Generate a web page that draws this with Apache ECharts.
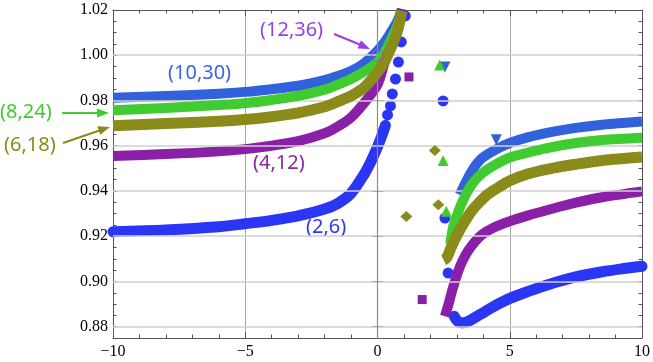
<!DOCTYPE html>
<html>
<head>
<meta charset="utf-8">
<script src="https://cdn.jsdelivr.net/npm/echarts@6/dist/echarts.min.js"></script>
<style>
  html, body { margin: 0; padding: 0; background: #fff; }
  #chart { width: 653px; height: 362px; }
</style>
</head>
<body>
<div id="chart"></div>
<script>
// axis ticks
const tickX = [-10, -5, 0, 5, 10];
const tickY = [0.88, 0.90, 0.92, 0.94, 0.96, 0.98, 1.00, 1.02];

// (2,6) blue circles
const c26LeftX = [-10, -8, -6, -5, -4, -3, -2, -1.5, -1, -0.5, -0.25, 0, 0.15, 0.3];
const c26LeftY = [0.922, 0.9228, 0.9242, 0.9255, 0.927, 0.929, 0.932, 0.9345, 0.939, 0.9475, 0.953, 0.9595, 0.964, 0.969];
const c26RightX = [2.9, 3.0, 3.15, 3.3, 3.5, 3.75, 4, 4.4, 5, 5.7, 6.5, 7.5, 8.5, 9.25, 10];
const c26RightY = [0.8846, 0.8828, 0.8817, 0.8818, 0.8828, 0.8845, 0.8862, 0.889, 0.8925, 0.8956, 0.8988, 0.902, 0.9043, 0.9056, 0.9067];
const c26DotX = [0.38, 0.49, 0.56, 0.68, 0.79, 0.9, 1.05, 2.48, 2.55, 2.67];
const c26DotY = [0.9736, 0.9776, 0.9829, 0.9895, 0.997, 1.0059, 1.0174, 0.9798, 0.928, 0.9037];

// (4,12) purple squares
const c412LeftX = [-10, -8, -6, -5, -4, -3, -2, -1.5, -1, -0.5, 0, 0.25, 0.5, 0.75, 0.92];
const c412LeftY = [0.9555, 0.9563, 0.9575, 0.9585, 0.96, 0.962, 0.9655, 0.9685, 0.9725, 0.979, 0.987, 0.996, 1.0045, 1.0125, 1.0205];
const c412RightX = [2.55, 2.7, 2.8, 2.9, 3.05, 3.2, 3.42, 3.7, 3.95, 4.4, 5, 5.7, 6.5, 7.5, 8.5, 10];
const c412RightY = [0.8846, 0.8905, 0.895, 0.899, 0.9045, 0.9088, 0.9135, 0.9178, 0.9207, 0.9238, 0.9266, 0.9292, 0.9318, 0.9348, 0.9372, 0.9398];
const c412DotX = [1.19, 1.69];
const c412DotY = [0.9904, 0.892];

// (6,18) olive diamonds
const c618LeftX = [-10, -8, -6, -5, -4, -3, -2, -1.5, -1, -0.5, 0, 0.25, 0.5, 0.75, 0.92];
const c618LeftY = [0.9688, 0.9698, 0.9708, 0.9716, 0.9728, 0.9745, 0.9772, 0.9795, 0.982, 0.9858, 0.9925, 0.997, 1.003, 1.0105, 1.0195];
const c618RightX = [2.5, 2.62, 2.8, 3.05, 3.3, 3.55, 3.85, 4.17, 4.6, 5, 5.7, 6.5, 7.5, 8.5, 10];
const c618RightY = [0.9095, 0.9105, 0.9155, 0.9214, 0.9265, 0.931, 0.935, 0.9385, 0.9418, 0.9445, 0.9476, 0.9498, 0.9518, 0.9535, 0.955];
const c618DotX = [1.09, 2.17, 2.3];
const c618DotY = [0.9287, 0.9579, 0.9339];

// (8,24) green triangles
const c824LeftX = [-10, -8, -6, -5, -4, -3, -2, -1.5, -1, -0.5, 0, 0.25, 0.5, 0.75, 0.92];
const c824LeftY = [0.9757, 0.9767, 0.978, 0.9788, 0.9802, 0.982, 0.9848, 0.987, 0.9895, 0.9928, 0.997, 1.001, 1.0065, 1.013, 1.0195];
const c824RightX = [2.75, 2.85, 3.0, 3.17, 3.4, 3.67, 4.0, 4.42, 5, 5.7, 6.5, 7.5, 8.5, 10];
const c824RightY = [0.9165, 0.9235, 0.929, 0.9342, 0.9398, 0.9445, 0.9482, 0.9514, 0.9548, 0.957, 0.9592, 0.9612, 0.9625, 0.9635];
const c824DotX = [2.35, 2.48, 2.6];
const c824DotY = [0.9957, 0.9535, 0.931];

// (10,30) blue down triangles
const c1030LeftX = [-10, -8, -6, -5, -4, -3, -2, -1.5, -1, -0.5, 0, 0.25, 0.5, 0.75, 0.9];
const c1030LeftY = [0.9812, 0.982, 0.983, 0.9838, 0.985, 0.9865, 0.989, 0.9908, 0.993, 0.9965, 1.002, 1.0055, 1.01, 1.015, 1.0195];
const c1030RightX = [3.11, 3.3, 3.55, 3.75, 3.98, 4.45, 5, 5.7, 6.5, 7.5, 8.5, 10];
const c1030RightY = [0.9383, 0.943, 0.9485, 0.952, 0.9548, 0.9582, 0.9612, 0.9638, 0.9659, 0.9679, 0.9693, 0.9707];
const c1030DotX = [2.55, 4.49];
const c1030DotY = [0.9948, 0.9626];

// (12,36)
const c1236X = [0];
const c1236Y = [1.0];

const colors = {
  c26: '#2b35f4',
  c412: '#8a20a8',
  c618: '#8b8b1c',
  c824: '#40cc30',
  c1030: '#3162dc',
  c1236: '#9a40e6'
};

function pts(x, y) { return x.map((v, i) => [v, y[i]]); }

function band(x, y, color, width, cap, z) {
  return {
    type: 'line', data: pts(x, y), smooth: 0.3,
    showSymbol: false, symbol: 'none',
    lineStyle: { color: color, width: width, cap: cap, join: 'round' },
    silent: true, z: z, animation: false
  };
}
function dots(x, y, color, symbol, size, rotate, z) {
  return {
    type: 'scatter', data: pts(x, y), symbol: symbol, symbolSize: size, symbolRotate: rotate,
    itemStyle: { color: color, opacity: 1 }, silent: true, z: z, animation: false
  };
}

const chart = echarts.init(document.getElementById('chart'));

const serif = '"Liberation Serif", "DejaVu Serif", serif';
const sans = '"Noto Sans", "DejaVu Sans", sans-serif';

function minus(v) { return v < 0 ? '\u2212' + Math.abs(v) : String(v); }

const xBase = {
  type: 'value', min: -10, max: 10, interval: 5,
  axisLine: { show: true, onZero: false, lineStyle: { color: '#555', width: 1 } },
  axisTick: { show: true, inside: true, length: 6, lineStyle: { color: '#555' } },
  minorTick: { show: true, splitNumber: 5, length: 3.5, lineStyle: { color: '#555' } },
  minorSplitLine: { show: false }
};
const yBase = {
  type: 'value', min: 0.875, max: 1.02, interval: 0.005,
  axisLine: { show: true, onZero: false, lineStyle: { color: '#555', width: 1 } },
  axisTick: { show: true, inside: true, length: 3.5, lineStyle: { color: '#555' } },
  splitLine: { show: false }
};

const option = {
  backgroundColor: '#fff',
  animation: false,
  grid: { left: 113, right: 8, top: 10, bottom: 24 },
  xAxis: [
    Object.assign({}, xBase, {
      position: 'bottom',
      splitLine: { show: true, lineStyle: { color: '#a8a8a8', width: 1 } },
      axisLabel: { show: true, margin: 6, color: '#000', fontFamily: serif, fontSize: 16, formatter: minus }
    }),
    Object.assign({}, xBase, {
      position: 'top', splitLine: { show: false }, axisLabel: { show: false }
    })
  ],
  yAxis: [
    Object.assign({}, yBase, {
      position: 'left',
      axisLabel: {
        show: true, margin: 5, color: '#000', fontFamily: serif, fontSize: 16,
        customValues: tickY,
        formatter: v => v.toFixed(2)
      }
    }),
    Object.assign({}, yBase, { position: 'right', axisLabel: { show: false } }),
    Object.assign({}, yBase, {
      position: 'left', axisLine: { show: false },
      axisTick: { show: true, inside: true, length: 6, customValues: tickY, lineStyle: { color: '#555' } },
      axisLabel: { show: false }
    }),
    Object.assign({}, yBase, {
      position: 'right', axisLine: { show: false },
      axisTick: { show: true, inside: true, length: 6, customValues: tickY, lineStyle: { color: '#555' } },
      axisLabel: { show: false }
    })
  ],
  series: [
    {
      type: 'line', data: [], z: 0, silent: true,
      markLine: {
        silent: true, symbol: 'none', animation: false,
        label: { show: false },
        data: tickY.slice(0, -1).map(v => ({ yAxis: v, lineStyle: { color: '#cfcfcf', width: 1.5, type: 'solid' } }))
          .concat([{ xAxis: 0, lineStyle: { color: '#8c8c8c', width: 1.2, type: 'solid' } }])
      }
    },
    band(c26LeftX, c26LeftY, colors.c26, 11, 'round', 2),
    band(c26RightX, c26RightY, colors.c26, 11, 'round', 2),
    dots(c26DotX, c26DotY, colors.c26, 'circle', 11, 0, 2),
    band(c412LeftX, c412LeftY, colors.c412, 10, 'butt', 3),
    band(c412RightX, c412RightY, colors.c412, 10, 'butt', 3),
    dots(c412DotX, c412DotY, colors.c412, 'rect', 9, 0, 3),
    band(c1030LeftX, c1030LeftY, colors.c1030, 10, 'butt', 4),
    band(c1030RightX, c1030RightY, colors.c1030, 10, 'butt', 4),
    dots(c1030DotX, c1030DotY, colors.c1030, 'triangle', 11, 180, 4),
    band(c824LeftX, c824LeftY, colors.c824, 10, 'butt', 5),
    band(c824RightX, c824RightY, colors.c824, 10, 'butt', 5),
    dots(c824DotX, c824DotY, colors.c824, 'triangle', 11, 0, 5),
    band(c618LeftX, c618LeftY, colors.c618, 11, 'butt', 6),
    band(c618RightX, c618RightY, colors.c618, 11, 'butt', 6),
    dots(c618DotX, c618DotY, colors.c618, 'diamond', [12, 11], 0, 6),
    {
      type: 'scatter', data: pts(c1236X, c1236Y), symbol: 'circle', symbolSize: 12,
      itemStyle: { color: 'rgba(0,0,0,0)', borderColor: colors.c1236, borderWidth: 1 },
      silent: true, z: 7
    }
  ],
  graphic: [
    { type: 'text', left: 168, top: 63, style: { text: '(10,30)', fill: '#3a64e0', font: '20px ' + sans } },
    { type: 'text', left: 0, top: 102, style: { text: '(8,24)', fill: '#3fcc33', font: '20px ' + sans } },
    { type: 'text', left: 4, top: 135, style: { text: '(6,18)', fill: '#8b8b1c', font: '20px ' + sans } },
    { type: 'text', left: 253, top: 153, style: { text: '(4,12)', fill: '#8b26a8', font: '20px ' + sans } },
    { type: 'text', left: 306, top: 217, style: { text: '(2,6)', fill: '#2d3af0', font: '20px ' + sans } },
    { type: 'text', left: 260, top: 20, style: { text: '(12,36)', fill: '#9a3fe6', font: '20px ' + sans } },
    // arrows
    { type: 'line', shape: { x1: 62, y1: 113, x2: 99, y2: 113 }, style: { stroke: '#3fcc33', lineWidth: 2 } },
    { type: 'polygon', shape: { points: [[109, 113], [97, 108.5], [97, 117.5]] }, style: { fill: '#3fcc33' } },
    { type: 'line', shape: { x1: 63, y1: 143, x2: 101, y2: 130 }, style: { stroke: '#8b8b1c', lineWidth: 2 } },
    { type: 'polygon', shape: { points: [[110, 127], [97.3, 126.2], [100.2, 134.7]] }, style: { fill: '#8b8b1c' } },
    { type: 'line', shape: { x1: 334, y1: 34, x2: 361, y2: 45 }, style: { stroke: '#9a3fe6', lineWidth: 2 } },
    { type: 'polygon', shape: { points: [[370, 49], [357.6, 48.6], [361, 40.2]] }, style: { fill: '#9a3fe6' } }
  ]
};

chart.setOption(option);
window.addEventListener('resize', () => chart.resize());
</script>
</body>
</html>
